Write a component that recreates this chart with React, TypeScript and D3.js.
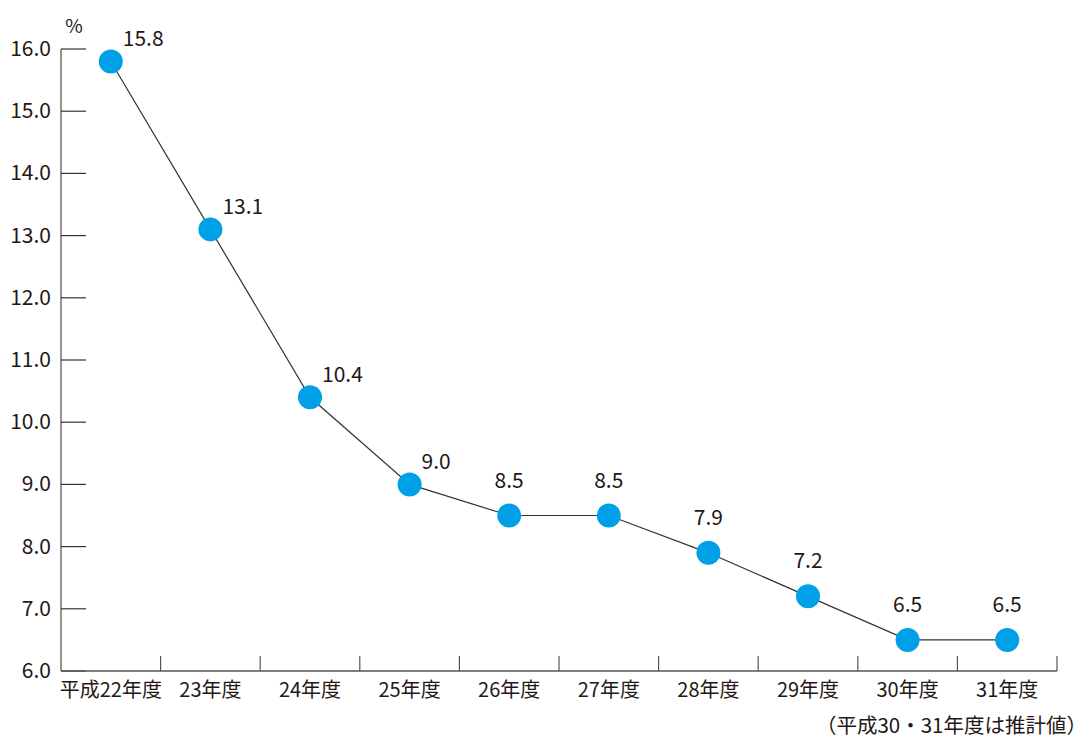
import React, { useEffect, useRef } from 'react';
import * as d3 from 'd3';

const categories = ['平成22年度', '23年度', '24年度', '25年度', '26年度', '27年度', '28年度', '29年度', '30年度', '31年度'];
const values = [15.8, 13.1, 10.4, 9.0, 8.5, 8.5, 7.9, 7.2, 6.5, 6.5];
const yTicks = [6, 7, 8, 9, 10, 11, 12, 13, 14, 15, 16];
const unitLabel = '%';
const noteText = '（平成30・31年度は推計値）';

const WIDTH = 1088;
const HEIGHT = 740;
const FONT = '"Noto Sans CJK JP", "Noto Sans", sans-serif';

const App: React.FC = () => {
  const ref = useRef<SVGSVGElement>(null);

  useEffect(() => {
    if (!ref.current) return;
    const svg = d3.select(ref.current);
    svg.selectAll('*').remove();

    const left = 61, right = 1057, top = 49, bottom = 671;

    const x = d3.scaleBand<string>().domain(categories).range([left, right]);
    const y = d3.scaleLinear().domain([6, 16]).range([bottom, top]);
    const cx = (i: number) => (x(categories[i]) ?? 0) + x.bandwidth() / 2;

    // y axis line
    svg.append('line')
      .attr('x1', left).attr('x2', left)
      .attr('y1', top).attr('y2', bottom)
      .attr('stroke', '#7a7a7a').attr('stroke-width', 1.6);

    // y ticks (inward) and labels
    const yg = svg.append('g');
    yg.selectAll('line.yt')
      .data(yTicks)
      .enter().append('line')
      .attr('x1', left).attr('x2', left + 25)
      .attr('y1', d => y(d)).attr('y2', d => y(d))
      .attr('stroke', '#333').attr('stroke-width', 1.2);
    yg.selectAll('text')
      .data(yTicks)
      .enter().append('text')
      .attr('x', 51)
      .attr('y', d => y(d) + 7)
      .attr('text-anchor', 'end')
      .attr('font-family', FONT)
      .attr('font-size', 21)
      .attr('fill', '#231815')
      .text(d => d.toFixed(1));

    // x axis
    svg.append('line')
      .attr('x1', left).attr('x2', right)
      .attr('y1', bottom).attr('y2', bottom)
      .attr('stroke', '#555').attr('stroke-width', 1.4);
    const xg = svg.append('g');
    xg.selectAll('line')
      .data(categories)
      .enter().append('line')
      .attr('x1', d => (x(d) ?? 0) + x.bandwidth())
      .attr('x2', d => (x(d) ?? 0) + x.bandwidth())
      .attr('y1', bottom).attr('y2', bottom - 15)
      .attr('stroke', '#555').attr('stroke-width', 1.2);
    xg.selectAll('text')
      .data(categories)
      .enter().append('text')
      .attr('x', d => (x(d) ?? 0) + x.bandwidth() / 2)
      .attr('y', 697)
      .attr('text-anchor', 'middle')
      .attr('font-family', FONT)
      .attr('font-size', 20)
      .attr('fill', '#231815')
      .text(d => d);

    // unit
    svg.append('text')
      .attr('x', 74).attr('y', 33)
      .attr('text-anchor', 'middle')
      .attr('font-family', FONT)
      .attr('font-size', 19)
      .attr('fill', '#231815')
      .text(unitLabel);

    // line
    const line = d3.line<number>()
      .x((_, i) => cx(i))
      .y(d => y(d));
    svg.append('path')
      .datum(values)
      .attr('d', line)
      .attr('fill', 'none')
      .attr('stroke', '#333')
      .attr('stroke-width', 1.2);

    // points
    svg.append('g').selectAll('circle')
      .data(values)
      .enter().append('circle')
      .attr('cx', (_, i) => cx(i))
      .attr('cy', d => y(d))
      .attr('r', 12)
      .attr('fill', '#00a0e9');

    // value labels: beside the point where the incoming segment is steep
    const steep = (i: number) => i === 0 || values[i - 1] - values[i] > 1;
    svg.append('g').selectAll('text')
      .data(values)
      .enter().append('text')
      .attr('x', (_, i) => steep(i) ? cx(i) + 12 : cx(i))
      .attr('y', (d, i) => steep(i) ? y(d) - 15 : y(d) - 28)
      .attr('text-anchor', (_, i) => steep(i) ? 'start' : 'middle')
      .attr('font-family', FONT)
      .attr('font-size', 21)
      .attr('fill', '#231815')
      .text(d => d.toFixed(1));

    // note
    svg.append('text')
      .attr('x', 1087).attr('y', 733)
      .attr('text-anchor', 'end')
      .attr('font-family', FONT)
      .attr('font-size', 20.5)
      .attr('fill', '#231815')
      .text(noteText);
  }, []);

  return (
    <svg
      ref={ref}
      width={WIDTH}
      height={HEIGHT}
      style={{ position: 'fixed', left: 0, top: 0, background: '#fff' }}
    />
  );
};

export default App;
